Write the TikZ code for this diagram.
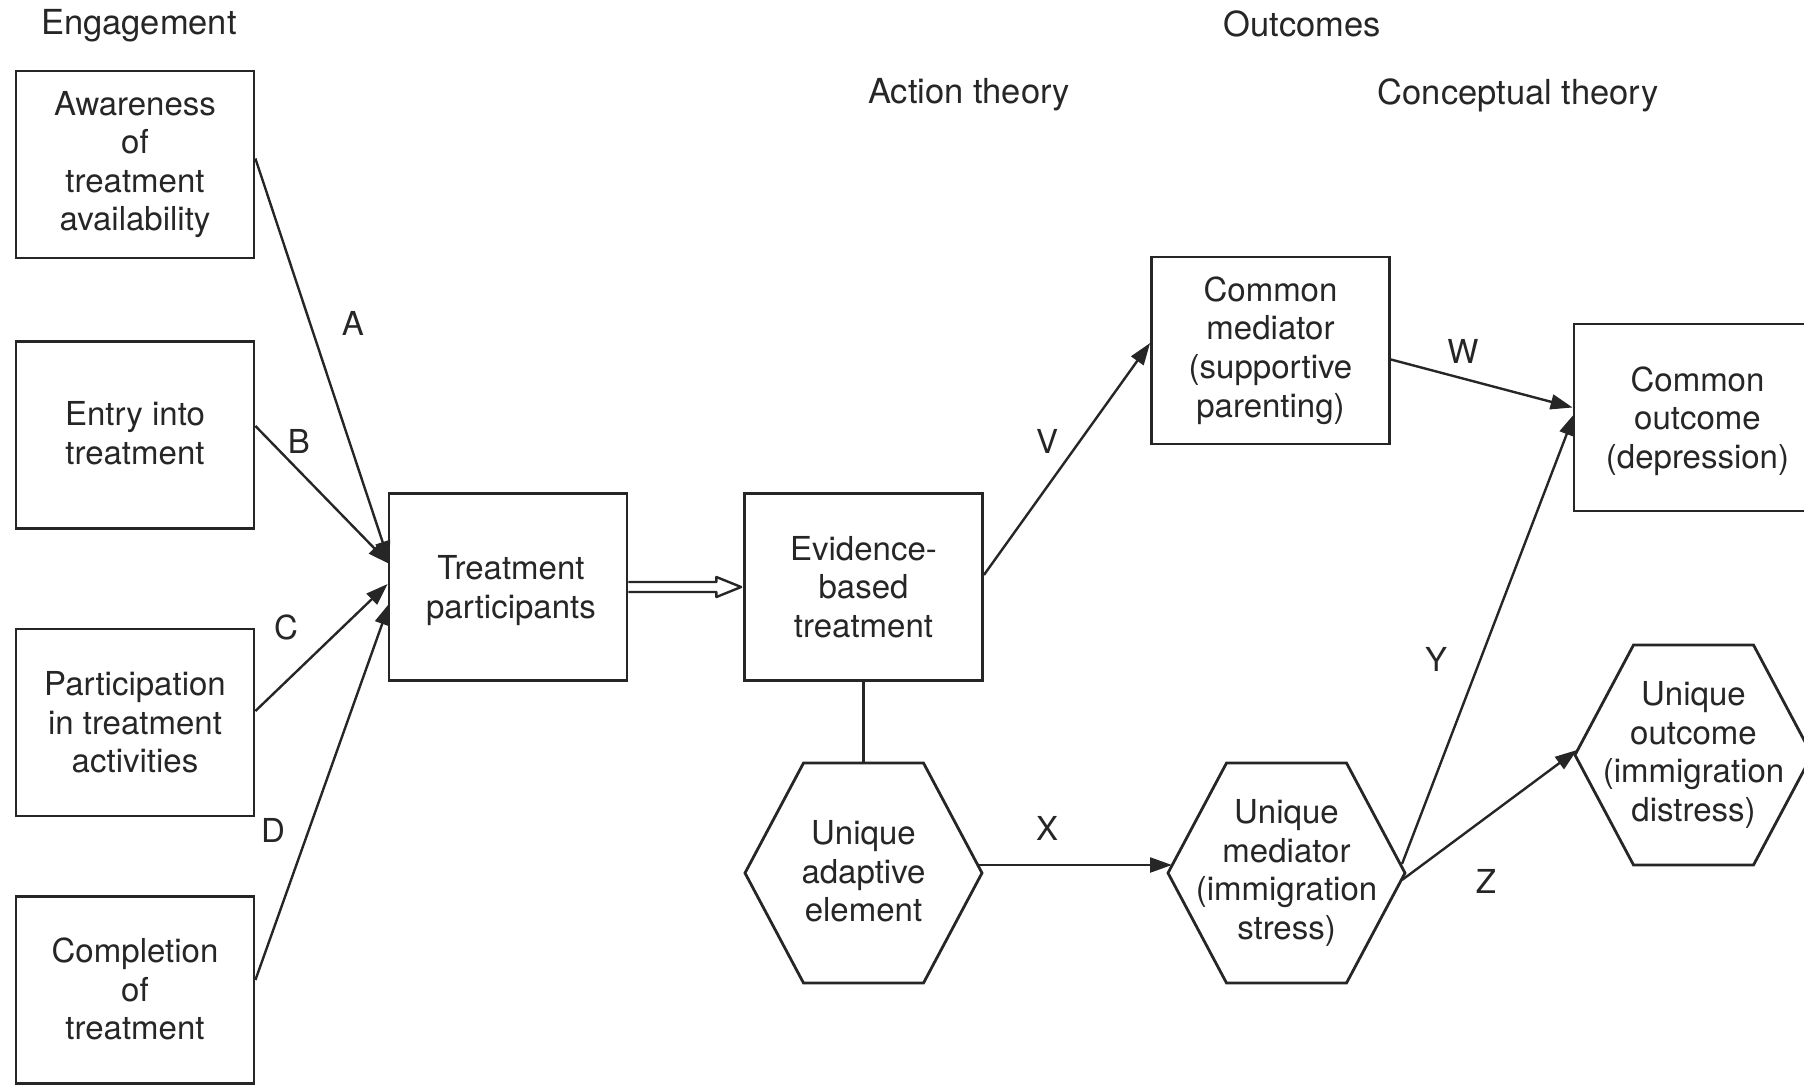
\documentclass[tikz,border=0pt]{standalone}
\usepackage{fontspec}
\setmainfont{TeX Gyre Heros}
\usetikzlibrary{arrows.meta,calc}

% hexagon drawn around the centre of a (borderless) node
\newcommand\hexaround[1]{%
  \draw[hexline] ($(#1)+(-118.5,0)$) -- ($(#1)+(-60,-110)$) -- ($(#1)+(60,-110)$)
    -- ($(#1)+(118.5,0)$) -- ($(#1)+(60,110)$) -- ($(#1)+(-60,110)$) -- cycle;
  \coordinate (#1-w) at ($(#1)+(-118.5,0)$);
  \coordinate (#1-e) at ($(#1)+(118.5,0)$);
  \coordinate (#1-n) at ($(#1)+(0,-110)$);
}

\begin{document}
\begin{tikzpicture}[x=1pt,y=-1pt,
  every node/.style={font=\fontsize{33}{38.6}\selectfont, align=center, text=black!85},
  box/.style={draw=black!85, line width=2.8pt, minimum width=238pt, minimum height=187pt, inner sep=0pt},
  hexline/.style={draw=black!85, line width=2.8pt, line join=miter},
  link/.style={draw=black!85, line width=2.4pt, -{Triangle[length=22pt,width=15pt]}},
  lbl/.style={inner sep=0pt},
  head/.style={font=\fontsize{34.5}{40}\selectfont, inner sep=0pt}]
\useasboundingbox (0,0) rectangle (1804,1086);
\clip (0,0) rectangle (1804,1086);

% column headings
\node[head] (hEng) at (139,26) {Engagement};
\node[head] (hOut) at (1302,24) {Outcomes};
\node[head] (hAct) at (969,95) {Action theory};
\node[head] (hCon) at (1518,95) {Conceptual theory};

% engagement boxes
\node[box] (aw) at (135,164.5) {Awareness\\of\\treatment\\availability};
\node[box, text depth=3.5pt] (en) at (135,435) {Entry into\\treatment};
\node[box] (pa) at (135,722.5) {Participation\\in treatment\\activities};
\node[box, text depth=2pt] (co) at (135,990) {Completion\\of\\treatment};

% treatment chain
\node[box] (tp) at (508,587) {\strut\\[-34pt]\hspace*{6pt}Treatment\\\hspace*{6pt}participants};
\node[box] (eb) at (863.5,587) {Evidence-\\based\\treatment};
\node[box] (cm) at (1270.5,350.5) {Common\\mediator\\(supportive\\parenting)};
\node[box] (cout) at (1693,417.5) {\strut\\[-34pt]\hspace*{9pt}Common\\\hspace*{9pt}outcome\\\hspace*{9pt}(depression)};

% hexagonal elements
\node[text depth=3.5pt] (uae) at (863.5,873) {Unique\\adaptive\\element};
\hexaround{uae}
\node (um) at (1286.5,873) {Unique\\mediator\\(immigration\\stress)};
\hexaround{um}
\node (uo) at (1693.5,755) {Unique\\outcome\\(immigration\\distress)};
\hexaround{uo}

% engagement arrows
\draw[link] ($(aw.east)+(0,-6)$) -- ($(tp.west)+(2,-24)$);
\draw[link] ($(en.east)+(0,-9)$) -- ($(tp.west)+(2,-23)$);
\draw[link] ($(pa.east)+(0,-11.5)$) -- ($(tp.west)+(0,-3)$);
\draw[link] ($(co.east)+(0,-10)$) -- ($(tp.west)+(2,16)$);
\node[lbl] (lA) at (353,323) {A};
\node[lbl] (lB) at (299,441) {B};
\node[lbl] (lC) at (286,627) {C};
\node[lbl] (lD) at (273,830) {D};

% hollow double arrow
\draw[draw=black!85, line width=2.4pt, line join=round]
  ($(tp.east)+(0,-5)$) -- ($(tp.east)+(88,-5)$) -- ($(tp.east)+(88,-10)$)
  -- ($(eb.west)+(-2,0)$)
  -- ($(tp.east)+(88,10)$) -- ($(tp.east)+(88,5)$) -- ($(tp.east)+(0,5)$);

% plain link from the treatment to its adaptive element
\draw[draw=black!85, line width=2.4pt] (eb.south) -- (uae-n);

% outcome arrows
\draw[link] ($(eb.east)+(0,-12)$) -- ($(cm.west)+(0,-7.5)$);
\draw[link] ($(cm.east)+(0,9)$) -- ($(cout.west)+(0,-10)$);
\draw[link] ($(uae-e)+(-4,-8)$) -- ($(um-w)+(4,-8)$);
\draw[link] ($(um-e)+(-3,-9)$) -- ($(cout.west)+(2,-4)$);
\draw[link] ($(um-e)+(-3,7)$) -- ($(uo-w)+(2,-5)$);
\node[lbl] (lV) at (1047,441) {V};
\node[lbl] (lW) at (1463,351) {W};
\node[lbl] (lX) at (1047,828) {X};
\node[lbl] (lY) at (1436,659) {Y};
\node[lbl] (lZ) at (1486,881) {Z};
\end{tikzpicture}
\end{document}
